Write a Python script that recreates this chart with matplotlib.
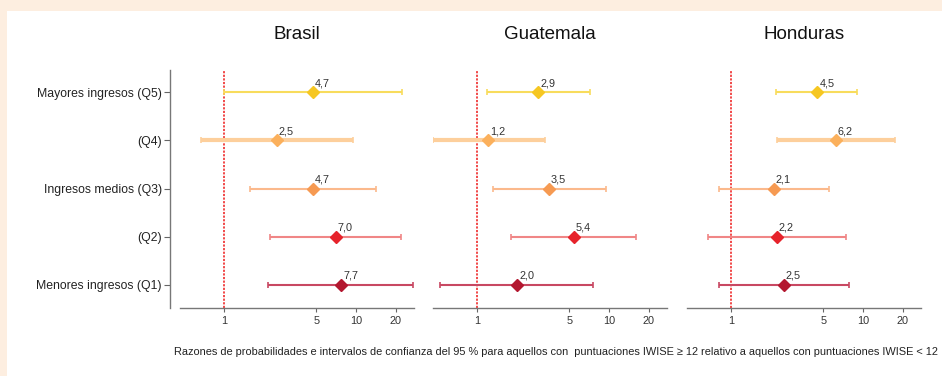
import numpy as np
import matplotlib
matplotlib.use("Agg")
import matplotlib.pyplot as plt

# Categories, bottom to top
categories = ["Menores ingresos (Q1)", "(Q2)", "Ingresos medios (Q3)", "(Q4)", "Mayores ingresos (Q5)"]
countries = ["Brasil", "Guatemala", "Honduras"]

# odds ratios and 95% CI (Q1..Q5)
brasil_or = [7.7, 7.0, 4.7, 2.5, 4.7]
brasil_lo = [2.15, 2.23, 1.57, 0.66, 1.0]
brasil_hi = [27.0, 21.9, 14.2, 9.5, 22.3]

guatemala_or = [2.0, 5.4, 3.5, 1.2, 2.9]
guatemala_lo = [0.52, 1.8, 1.31, 0.46, 1.19]
guatemala_hi = [7.6, 16.1, 9.55, 3.27, 7.18]

honduras_or = [2.5, 2.2, 2.1, 6.2, 4.5]
honduras_lo = [0.80, 0.66, 0.80, 2.22, 2.18]
honduras_hi = [7.87, 7.35, 5.5, 17.4, 9.06]

line_colors = ["#c84862", "#f08686", "#fbb98c", "#fdcf9c", "#f8dc5c"]
marker_colors = ["#b3172f", "#e6232b", "#f69a52", "#fbb05c", "#f6c722"]
line_widths = [1.5, 1.5, 1.5, 3.0, 1.5]

data = [
    (brasil_or, brasil_lo, brasil_hi),
    (guatemala_or, guatemala_lo, guatemala_hi),
    (honduras_or, honduras_lo, honduras_hi),
]

plt.rcParams["font.family"] = ["Liberation Sans", "DejaVu Sans"]

W, H = 942, 376
fig = plt.figure(figsize=(W / 100, H / 100), dpi=100)
fig.patch.set_facecolor("#fdeee0")
# white inner panel
fig.add_artist(plt.Rectangle((7 / W, 0), 1, 1 - 11 / H, transform=fig.transFigure,
                             facecolor="white", edgecolor="none", zorder=0))

lefts = [180, 433, 687]
ax_w = 234
bottom = 1 - 308 / H
height = 238 / H

for i, (name, (orv, lo, hi)) in enumerate(zip(countries, data)):
    ax = fig.add_axes([lefts[i] / W, bottom, ax_w / W, height])
    ax.set_facecolor("none")
    ax.set_xscale("log")
    ax.set_xlim(0.46, 27.5)
    ax.set_ylim(-0.48, 4.46)
    y = np.arange(len(categories))

    ax.axvline(1, color="#f03a3a", linestyle=(0, (1.2, 0.8)), linewidth=1.3, zorder=1)

    for k in range(len(categories)):
        ax.errorbar(orv[k], y[k], xerr=[[orv[k] - lo[k]], [hi[k] - orv[k]]],
                    fmt="none", ecolor=line_colors[k], elinewidth=line_widths[k],
                    capsize=2.5, capthick=1.2, zorder=2)
        ax.plot(orv[k], y[k], marker="D", markersize=6, color=marker_colors[k],
                linestyle="none", zorder=3)
        ax.annotate(f"{orv[k]:.1f}".replace(".", ","), (orv[k], y[k]),
                    xytext=(2, 4), textcoords="offset pixels",
                    fontsize=7.8, color="#333333", ha="left", va="bottom")

    ax.set_xticks([1, 5, 10, 20])
    ax.set_xticklabels(["1", "5", "10", "20"])
    ax.xaxis.set_minor_locator(matplotlib.ticker.NullLocator())
    ax.tick_params(axis="x", length=3, width=0.8, color="#666666", labelsize=7.8,
                   labelcolor="#333333", pad=3)

    for s in ["top", "right"]:
        ax.spines[s].set_visible(False)
    ax.spines["bottom"].set_color("#777777")
    ax.spines["bottom"].set_linewidth(1.0)

    if i == 0:
        ax.spines["left"].set_position(("outward", 7))
        ax.spines["left"].set_color("#777777")
        ax.spines["left"].set_linewidth(1.0)
        ax.set_yticks(y)
        ax.set_yticklabels(categories)
        ax.tick_params(axis="y", length=4, width=0.8, color="#666666", labelsize=8.8,
                       labelcolor="#222222", pad=2)
    else:
        ax.spines["left"].set_visible(False)
        ax.set_yticks([])

    ax.set_title(name, fontsize=13.5, color="#111111", pad=22)

fig.text(938 / W, 1 - 352 / H,
         "Razones de probabilidades e intervalos de confianza del 95 % para aquellos con  "
         "puntuaciones IWISE \u2265 12 relativo a aquellos con puntuaciones IWISE < 12",
         ha="right", va="center", fontsize=7.9, color="#222222")

fig.savefig("out.png", dpi=100, facecolor=fig.get_facecolor())
